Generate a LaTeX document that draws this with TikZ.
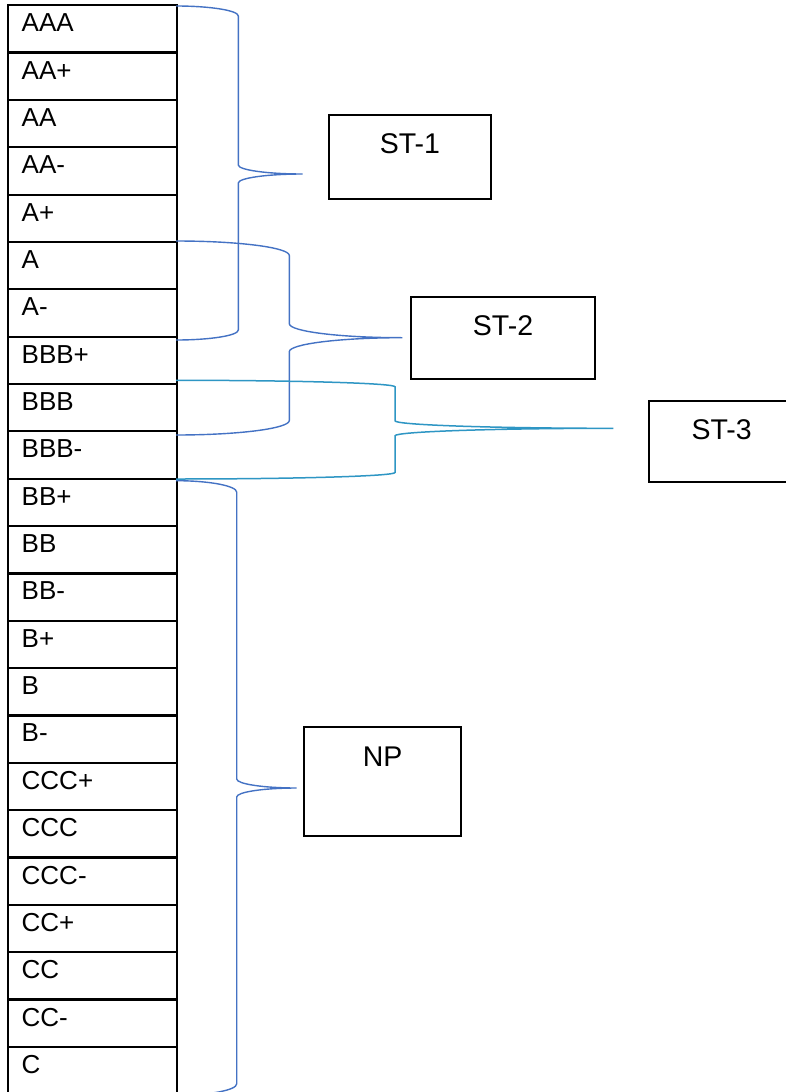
\documentclass[tikz,border=0pt]{standalone}
\usepackage{fontspec}
\setmainfont{Liberation Sans}
\usetikzlibrary{calc}
\definecolor{braceblue}{RGB}{68,114,196}
\definecolor{braceteal}{RGB}{46,150,196}
% #1 style, #2 xend, #3 ytop, #4 ybot, #5 xbend, #6 xtip, #7 ytip, #8 end radius, #9 middle radius
\newcommand\mybrace[9]{%
  \pgfmathsetmacro\bxa{#2+0.5523*(#5-#2)}%
  \pgfmathsetmacro\bya{#3+0.4477*#8}%
  \pgfmathsetmacro\byb{#7-0.4477*#9}%
  \pgfmathsetmacro\bxb{#6-0.5523*(#6-#5)}%
  \pgfmathsetmacro\byc{#7+0.4477*#9}%
  \pgfmathsetmacro\byd{#4-0.4477*#8}%
  \draw[#1] (#2,#3) .. controls (\bxa,#3) and (#5,\bya) .. (#5,#3+#8)
     -- (#5,#7-#9) .. controls (#5,\byb) and (\bxb,#7) .. (#6,#7)
     .. controls (\bxb,#7) and (#5,\byc) .. (#5,#7+#9)
     -- (#5,#4-#8) .. controls (#5,\byd) and (\bxa,#4) .. (#2,#4);
}
\tikzset{
  rowbox/.style={draw, line width=2.2pt, minimum width=169pt, minimum height=47.35pt,
    inner sep=0pt, outer sep=0pt, anchor=north west},
  rowlbl/.style={anchor=base west, inner sep=0pt, font=\fontsize{26}{30}\selectfont},
  catbox/.style={draw, line width=2pt, inner sep=0pt, outer sep=0pt},
  boxlbl/.style={anchor=base, inner sep=0pt, font=\fontsize{28.5}{34}\selectfont},
  bluebrace/.style={draw=braceblue, line width=1.4pt},
  tealbrace/.style={draw=braceteal, line width=1.5pt},
}
\begin{document}
\begin{tikzpicture}[x=1pt,y=-1pt]
\clip (0,0) rectangle (786,1092);
\fill[white] (0,0) rectangle (786,1092);
% rating column
\foreach \lbl [count=\i] in {AAA,AA+,AA,AA-,A+,A,A-,BBB+,BBB,BBB-,BB+,BB,BB-,B+,B,B-,CCC+,CCC,CCC-,CC+,CC,CC-,C} {
  \node[rowbox] (r\i) at (8,{5.2+(\i-1)*47.35}) {};
  \node[rowlbl] (l\i) at ($(r\i.north west)+(13.5,26.5)$) {\lbl};
}
% category boxes
\node[catbox, minimum width=161.7pt, minimum height=84.3pt] (st1) at (409.9,157.2) {};
\node[boxlbl] (st1lbl) at (409.9,153.3) {ST-1};
\node[catbox, minimum width=184.6pt, minimum height=82pt] (st2) at (503,337.7) {};
\node[boxlbl] (st2lbl) at (503,335) {ST-2};
\node[catbox, minimum width=146.3pt, minimum height=81.3pt] (st3) at (721.85,441.65) {};
\node[boxlbl] (st3lbl) at (721.7,439.3) {ST-3};
\node[catbox, minimum width=156.7pt, minimum height=109pt] (np) at (382.65,781.2) {};
\node[boxlbl] (nplbl) at (382.65,766) {NP};
% braces
\mybrace{bluebrace}{176}{6}{340}{238.3}{302.7}{174}{10}{9}
\mybrace{bluebrace}{176}{241}{435}{289.3}{402.3}{337.7}{14.5}{14}
\mybrace{tealbrace}{176}{380.3}{479}{395}{613.3}{428.3}{6.5}{7.5}
\mybrace{bluebrace}{176}{480.7}{1095.3}{236.7}{296.7}{788}{11.5}{9}
\end{tikzpicture}
\end{document}
